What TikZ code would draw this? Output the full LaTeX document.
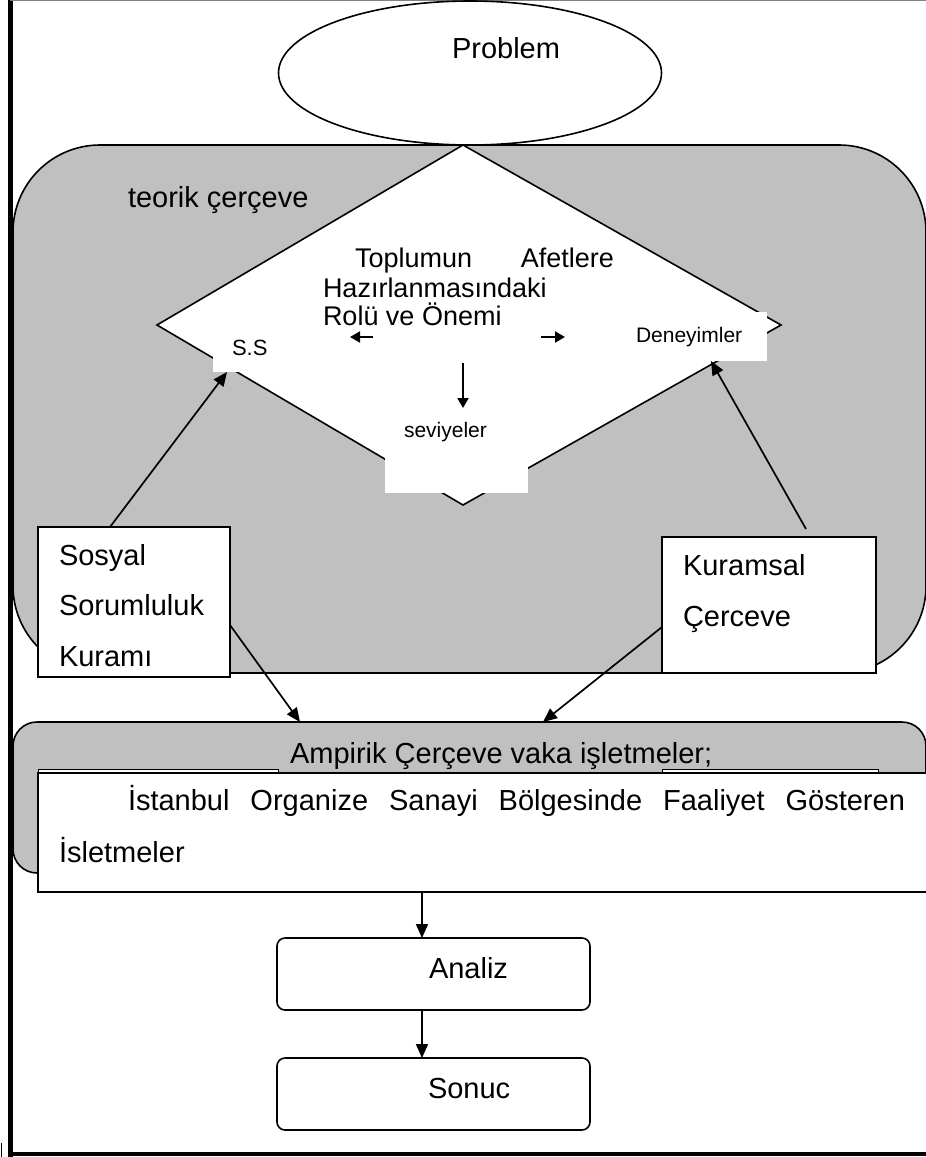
\documentclass[tikz,border=0pt]{standalone}
\usepackage{fontspec}
\setmainfont{Liberation Sans}
\usetikzlibrary{arrows.meta,shapes.geometric,calc}
\definecolor{panelgray}{HTML}{C0C0C0}
\begin{document}
\begin{tikzpicture}[x=1pt,y=-1pt,
  every node/.style={inner sep=0pt, outer sep=0pt},
  box/.style={draw, fill=white, line width=1.6pt, anchor=north west},
  patch/.style={fill=white, draw=none, anchor=north west},
  panel/.style={draw, fill=panelgray, line width=1.6pt, anchor=north west},
  conn/.style={line width=1.7pt, -{Triangle[length=14pt,width=12pt]}},
  smallarr/.style={line width=2pt, -{Triangle[length=10pt,width=11pt]}},
  txt/.style={anchor=base west, font=\fontsize{29}{34}\selectfont},
  mid/.style={anchor=base west, font=\fontsize{27}{31}\selectfont},
  small/.style={anchor=base west, font=\fontsize{21}{25}\selectfont}]
\useasboundingbox (0,0) rectangle (926,1157);
\clip (0,0) rectangle (926,1157);

% outer frame
\draw[line width=5pt] (10,0) -- (10,1157);
\draw[line width=1pt, gray] (10,0.5) -- (926,0.5);
\draw[line width=4pt] (8,1154) -- (926,1154);
\draw[line width=1.5pt] (1.5,1143) -- (1.5,1157);

% teorik panel
\node[panel, rounded corners=87pt, minimum width=913pt, minimum height=528pt] (teorik) at (13,145) {};
\node[txt] (teoriktxt) at (128,207) {teorik çerçeve};

% problem
\node[ellipse, draw, fill=white, line width=1.6pt, minimum width=383pt, minimum height=144pt] (problem) at (470,73) {};
\node[txt] (problemtxt) at (452,58) {Problem};

% diamond
\draw[line width=1.6pt, fill=white] (463,145) coordinate (dtop) -- (781,325) coordinate (dright)
  -- (463,505) coordinate (dbottom) -- (157,325) coordinate (dleft) -- cycle;

% white patches on diamond
\node[patch, minimum width=82pt, minimum height=40pt] (ssbox) at (213,332) {};
\node[txt, font=\fontsize{22}{26}\selectfont] (sstxt) at (232,355) {S.S};
\node[patch, minimum width=155pt, minimum height=49pt] (denbox) at (612,312) {};
\node[small] (dentxt) at (636,342) {Deneyimler};
\node[patch, minimum width=143pt, minimum height=78pt] (sevbox) at (385,415) {};
\node[small] (sevtxt) at (404,437) {seviyeler};

% centre text
\node[mid] (l1) at (355,267) {\makebox[259pt][s]{Toplumun Afetlere}};
\node[mid] (l2) at (323,297) {Hazırlanmasındaki};
\node[mid] (l3) at (323,325) {Rolü ve Önemi};

% small arrows
\coordinate (la1) at (373,337); \coordinate (la2) at (350,337);
\coordinate (ra1) at (541,337); \coordinate (ra2) at (565,337);
\coordinate (da1) at (463,363); \coordinate (da2) at (463,408);
\draw[smallarr] (la1) -- (la2);
\draw[smallarr] (ra1) -- (ra2);
\draw[smallarr] (da1) -- (da2);

% side boxes
\node[box, minimum width=192pt, minimum height=150pt] (sosyal) at (38,527) {};
\node[txt] (s1) at (59,565) {Sosyal};
\node[txt] (s2) at (59,615) {Sorumluluk};
\node[txt] (s3) at (59,666) {Kuramı};
\node[box, minimum width=214pt, minimum height=136pt] (kuramsal) at (662,537) {};
\node[txt] (k1) at (683,575) {Kuramsal};
\node[txt] (k2) at (683,626) {Çerceve};

% ampirik panel
\node[panel, rounded corners=24pt, minimum width=913pt, minimum height=151pt] (ampirik) at (13,722) {};
\node[txt] (amptxt) at (290,763) {Ampirik Çerçeve vaka işletmeler;};
\node[box, line width=1pt, minimum width=240pt, minimum height=30pt] (back1) at (38,769) {};
\node[box, line width=1pt, minimum width=216pt, minimum height=30pt] (back2) at (662,769) {};
\node[box, minimum width=892pt, minimum height=119pt] (ist) at (38,773) {};
\node[txt] (i1) at (128,810) {\makebox[777pt][s]{İstanbul Organize Sanayi Bölgesinde Faaliyet Gösteren}};
\node[txt] (i2) at (59,862) {İsletmeler};

% analiz, sonuc
\node[box, rounded corners=8pt, minimum width=313pt, minimum height=72pt] (analiz) at (277,938) {};
\node[txt] (analiztxt) at (429,978) {Analiz};
\node[box, rounded corners=8pt, minimum width=313pt, minimum height=72pt] (sonuc) at (277,1058) {};
\node[txt] (sonuctxt) at (428,1098) {Sonuc};

% connectors
\draw[conn] ([xshift=72pt]sosyal.north west) -- ([xshift=14pt]ssbox.south west);
\draw[conn] ([xshift=144pt,yshift=8pt]kuramsal.north west) -- ([xshift=99pt]denbox.south west);
\draw[conn] ([yshift=-23pt]sosyal.east) -- ([xshift=287pt]ampirik.north west);
\draw[conn] ([yshift=-22pt]kuramsal.west) -- ([xshift=530pt]ampirik.north west);
\draw[conn] ([xshift=384pt]ist.south west) -- ([xshift=145pt]analiz.north west);
\draw[conn] ([xshift=145pt]analiz.south west) -- ([xshift=145pt]sonuc.north west);
\end{tikzpicture}
\end{document}
